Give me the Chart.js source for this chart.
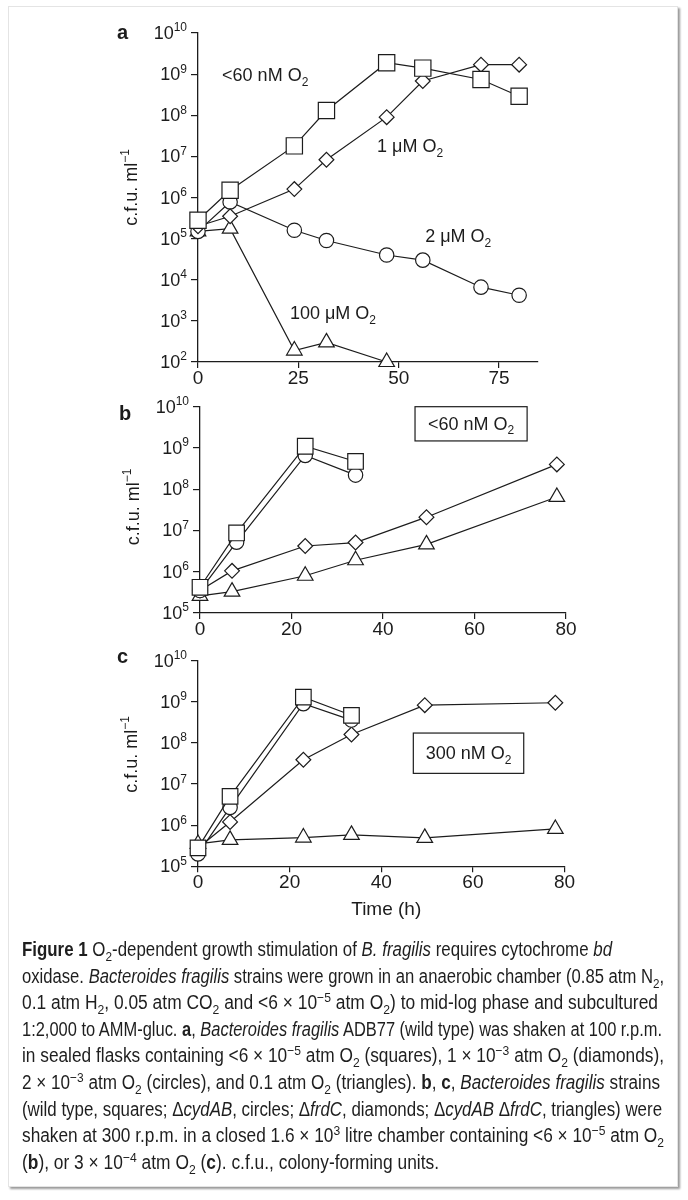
<!DOCTYPE html>
<html lang="en">
<head>
<meta charset="utf-8">
<title>Figure 1</title>
<script src="https://cdn.jsdelivr.net/npm/chart.js@4.4.1/dist/chart.umd.min.js"></script>
<style>
  html, body { margin: 0; padding: 0; background: #fff; }
  body { width: 688px; height: 1200px; position: relative; overflow: hidden; }
  .frame { position: absolute; left: 8px; top: 6px; width: 670px; height: 1181px; box-sizing: border-box;
           border: 1px solid #e4e4e4; box-shadow: 2px 2px 2px rgba(0, 0, 0, 0.4); }
  canvas { position: absolute; left: 0; }
  #caption { position: absolute; left: 22px; top: 936px; color: #1e1e1e;
             font-family: "Liberation Sans Narrow", "Arial Narrow", "Liberation Sans", sans-serif;
             font-size: 19.5px; line-height: 26.6px; }
  #caption div { white-space: nowrap; width: max-content; transform-origin: 0 50%; }
  #caption sub, #caption sup { font-size: 70%; line-height: 0; }
</style>
</head>
<body>
<div class="frame"></div>
<canvas id="chartA" width="688" height="402" style="top:0"></canvas>
<canvas id="chartB" width="688" height="268" style="top:385px"></canvas>
<canvas id="chartC" width="688" height="300" style="top:640px"></canvas>

<div id="caption">
  <div data-w="590"><b>Figure 1</b> O<sub>2</sub>-dependent growth stimulation of <i>B. fragilis</i> requires cytochrome <i>bd</i></div>
  <div data-w="642">oxidase. <i>Bacteroides fragilis</i> strains were grown in an anaerobic chamber (0.85&nbsp;atm N<sub>2</sub>,</div>
  <div data-w="636">0.1&nbsp;atm H<sub>2</sub>, 0.05&nbsp;atm CO<sub>2</sub> and &lt;6 × 10<sup>−5</sup> atm O<sub>2</sub>) to mid-log phase and subcultured</div>
  <div data-w="640">1:2,000 to AMM-gluc. <b>a</b>, <i>Bacteroides fragilis</i> ADB77 (wild type) was shaken at 100&nbsp;r.p.m.</div>
  <div data-w="642">in sealed flasks containing &lt;6 × 10<sup>−5</sup> atm O<sub>2</sub> (squares), 1 × 10<sup>−3</sup> atm O<sub>2</sub> (diamonds),</div>
  <div data-w="638">2 × 10<sup>−3</sup> atm O<sub>2</sub> (circles), and 0.1&nbsp;atm O<sub>2</sub> (triangles). <b>b</b>, <b>c</b>, <i>Bacteroides fragilis</i> strains</div>
  <div data-w="640">(wild type, squares; Δ<i>cydAB</i>, circles; Δ<i>frdC</i>, diamonds; Δ<i>cydAB</i> Δ<i>frdC</i>, triangles) were</div>
  <div data-w="642">shaken at 300&nbsp;r.p.m. in a closed 1.6 × 10<sup>3</sup> litre chamber containing &lt;6 × 10<sup>−5</sup> atm O<sub>2</sub></div>
  <div data-w="417">(<b>b</b>), or 3 × 10<sup>−4</sup> atm O<sub>2</sub> (<b>c</b>). c.f.u., colony-forming units.</div>
</div>

<script>
// Painel a: ADB77 em frascos com O2 diferente (horas, c.f.u./ml)
const aTime = [0, 8, 24, 32, 47, 56, 70.5, 80];
const aSquares = [2.8e5, 1.5e6, 1.8e7, 1.3e8, 1.9e9, 1.4e9, 7.4e8, 2.9e8];
const aDiamonds = [2.0e5, 3.5e5, 1.6e6, 8.3e6, 9.0e7, 6.8e8, 1.7e9, 1.7e9];
const aCircles = [1.5e5, 7.8e5, 1.6e5, 9.0e4, 4.0e4, 3.0e4, 6.6e3, 4.2e3];
const aTriTime = [0, 8, 24, 32, 47];
const aTriangles = [1.5e5, 1.75e5, 190, 300, 100];

// Painel b: <60 nM O2
const bTimeShort = [0, 8, 23, 34];
const bSquares = [4.2e5, 8.7e6, 1.1e9, 4.7e8];
const bCircles = [3.5e5, 5.2e6, 6.6e8, 2.2e8];
const bTimeLong = [0, 7, 23, 34, 49.5, 78];
const bDiamonds = [3.5e5, 1.05e6, 4.2e6, 5.1e6, 2.1e7, 4.0e8];
const bTriangles = [2.6e5, 3.3e5, 8.0e5, 1.9e6, 4.6e6, 6.5e7];

// Painel c: 300 nM O2
const cTimeShort = [0, 7, 23, 33.5];
const cSquares = [2.8e5, 5.0e6, 1.3e9, 4.7e8];
const cCircles = [2.0e5, 2.7e6, 9.0e8, 3.6e8];
const cTimeLong = [0, 7, 23, 33.5, 49.5, 78];
const cDiamonds = [2.8e5, 1.2e6, 3.9e7, 1.6e8, 8.3e8, 9.5e8];
const cTriangles = [3.5e5, 4.4e5, 5.0e5, 5.8e5, 4.9e5, 8.1e5];

// Marcas dos eixos
const aXTicks = [0, 25, 50, 75];
const bcXTicks = [0, 20, 40, 60, 80];
const aDecades = [1e2, 1e3, 1e4, 1e5, 1e6, 1e7, 1e8, 1e9, 1e10];
const bcDecades = [1e5, 1e6, 1e7, 1e8, 1e9, 1e10];

const ink = '#1c1c1c';
const FONT = '"Liberation Sans", Arial, Helvetica, sans-serif';

function pts(xs, ys) {
    return xs.map((x, i) => ({ x: x, y: ys[i] }));
}

function series(xs, ys, style, r) {
    return {
        data: pts(xs, ys),
        showLine: true,
        tension: 0,
        borderColor: ink,
        borderWidth: 1.2,
        pointStyle: style,
        pointRadius: r,
        pointHoverRadius: r,
        pointBackgroundColor: '#fff',
        pointBorderColor: ink,
        pointBorderWidth: 1.2,
        clip: false
    };
}

// texto com sub/sobrescrito; y = linha de base
function drawRuns(ctx, runs, x, y, size, align) {
    const small = Math.round(size * 0.68);
    const widths = runs.map(r => {
        ctx.font = (r.s ? small : size) + 'px ' + FONT;
        return ctx.measureText(r.t).width;
    });
    const total = widths.reduce((a, b) => a + b, 0);
    let cx = align === 'right' ? x - total : align === 'center' ? x - total / 2 : x;
    ctx.textAlign = 'left';
    ctx.textBaseline = 'alphabetic';
    runs.forEach((r, i) => {
        ctx.font = (r.s ? small : size) + 'px ' + FONT;
        const dy = r.s === 'sup' ? -size * 0.42 : r.s === 'sub' ? size * 0.26 : 0;
        ctx.fillText(r.t, cx, y + dy);
        cx += widths[i];
    });
}

function overlay(p) {
    return {
        id: 'overlay',
        afterDraw(chart) {
            const ctx = chart.ctx;
            const area = chart.chartArea;
            const xs = chart.scales.x;
            const ys = chart.scales.y;
            ctx.save();
            ctx.fillStyle = ink;

            // rótulos 10^n
            p.decades.forEach(v => {
                const y = ys.getPixelForValue(v);
                drawRuns(ctx, [{ t: '10' }, { t: String(Math.round(Math.log10(v))), s: 'sup' }],
                    area.left - 11, y + 6, 18, 'right');
            });

            // título do eixo y
            ctx.save();
            ctx.translate(area.left - 67, (area.top + area.bottom) / 2 + p.titleShift);
            ctx.rotate(-Math.PI / 2);
            drawRuns(ctx, [{ t: 'c.f.u. ml' }, { t: '−1', s: 'sup' }], 0, 6, 18, 'center');
            ctx.restore();

            // letra do painel
            ctx.font = 'bold 20px ' + FONT;
            ctx.textAlign = 'left';
            ctx.fillText(p.letter, area.left - 81, area.top + p.letterDy);

            // anotações
            (p.notes || []).forEach(n => {
                drawRuns(ctx, n.runs, xs.getPixelForValue(n.x), ys.getPixelForValue(n.y) + 6, 18, 'left');
            });

            if (p.box) {
                const x1 = xs.getPixelForValue(p.box.x1), x2 = xs.getPixelForValue(p.box.x2);
                const y1 = ys.getPixelForValue(p.box.y1), y2 = ys.getPixelForValue(p.box.y2);
                ctx.fillStyle = '#fff';
                ctx.fillRect(x1, y1, x2 - x1, y2 - y1);
                ctx.strokeStyle = ink;
                ctx.lineWidth = 1.2;
                ctx.strokeRect(x1, y1, x2 - x1, y2 - y1);
                ctx.fillStyle = ink;
                drawRuns(ctx, p.box.runs, (x1 + x2) / 2, (y1 + y2) / 2 + 6, 18, 'center');
            }

            if (p.xTitle) {
                ctx.font = '19px ' + FONT;
                ctx.textAlign = 'center';
                ctx.fillText(p.xTitle, (area.left + area.right) / 2 + 5, area.bottom + 49);
            }
            ctx.restore();
        }
    };
}

function makePanel(id, datasets, p) {
    return new Chart(document.getElementById(id), {
        type: 'scatter',
        data: { datasets: datasets },
        options: {
            responsive: false,
            animation: false,
            events: [],
            layout: { padding: p.padding },
            plugins: { legend: { display: false }, tooltip: { enabled: false } },
            scales: {
                x: {
                    type: 'linear',
                    min: 0,
                    max: p.xMax,
                    afterBuildTicks: s => { s.ticks = p.xTicks.map(v => ({ value: v })); },
                    afterFit: s => { s.height = p.xHeight; },
                    ticks: { color: ink, font: { family: FONT, size: 19, lineHeight: 1 }, padding: 1, maxRotation: 0, autoSkip: false },
                    grid: { drawOnChartArea: false, drawTicks: true, tickLength: 6, color: ink, lineWidth: 1.2 },
                    border: { display: true, color: ink, width: 1.3 }
                },
                y: {
                    type: 'logarithmic',
                    min: p.decades[0],
                    max: p.decades[p.decades.length - 1],
                    afterBuildTicks: s => { s.ticks = p.decades.map(v => ({ value: v, major: true })); },
                    afterFit: s => { s.width = 20; },
                    ticks: { display: false },
                    grid: { drawOnChartArea: false, drawTicks: true, tickLength: 7, color: ink, lineWidth: 1.2 },
                    border: { display: true, color: ink, width: 1.3 }
                }
            }
        },
        plugins: [overlay(p)]
    });
}

makePanel('chartA', [
    series(aTime, aSquares, 'rect', 11.5),
    series(aTime, aDiamonds, 'rectRot', 7.4),
    series(aTime, aCircles, 'circle', 7.2),
    series(aTriTime, aTriangles, 'triangle', 9)
], {
    padding: { left: 178, right: 150, top: 33, bottom: 0 },
    xMax: 84.7, xTicks: aXTicks, xHeight: 40, decades: aDecades,
    letter: 'a', letterDy: 6, titleShift: -10,
    notes: [
        { x: 6, y: 9.5e8, runs: [{ t: '<60 nM O' }, { t: '2', s: 'sub' }] },
        { x: 44.6, y: 1.8e7, runs: [{ t: '1 μM O' }, { t: '2', s: 'sub' }] },
        { x: 56.6, y: 1.15e5, runs: [{ t: '2 μM O' }, { t: '2', s: 'sub' }] },
        { x: 22.9, y: 1.55e3, runs: [{ t: '100 μM O' }, { t: '2', s: 'sub' }] }
    ]
});

makePanel('chartB', [
    series(bTimeShort, bSquares, 'rect', 11),
    series(bTimeShort, bCircles, 'circle', 7.2),
    series(bTimeLong, bDiamonds, 'rectRot', 7.4),
    series(bTimeLong, bTriangles, 'triangle', 9)
], {
    padding: { left: 180, right: 122, top: 21.7, bottom: 0 },
    xMax: 80, xTicks: bcXTicks, xHeight: 40, decades: bcDecades,
    letter: 'b', letterDy: 13, titleShift: -3,
    box: { x1: 47, x2: 71.5, y1: 1e10, y2: 1.48e9, runs: [{ t: '<60 nM O' }, { t: '2', s: 'sub' }] }
});

makePanel('chartC', [
    series(cTimeShort, cSquares, 'rect', 11),
    series(cTimeShort, cCircles, 'circle', 7.2),
    series(cTimeLong, cDiamonds, 'rectRot', 7.4),
    series(cTimeLong, cTriangles, 'triangle', 9)
], {
    padding: { left: 178, right: 123.5, top: 20.7, bottom: 0 },
    xMax: 80, xTicks: bcXTicks, xHeight: 73.7, decades: bcDecades,
    letter: 'c', letterDy: 2, titleShift: -9,
    box: { x1: 47, x2: 71.1, y1: 1.74e8, y2: 1.82e7, runs: [{ t: '300 nM O' }, { t: '2', s: 'sub' }] },
    xTitle: 'Time (h)'
});

// ajusta a largura de cada linha da legenda
document.querySelectorAll('#caption div').forEach(line => {
    const target = Number(line.dataset.w);
    const natural = line.getBoundingClientRect().width;
    if (natural > 0) line.style.transform = 'scaleX(' + (target / natural).toFixed(4) + ')';
});
</script>
</body>
</html>
